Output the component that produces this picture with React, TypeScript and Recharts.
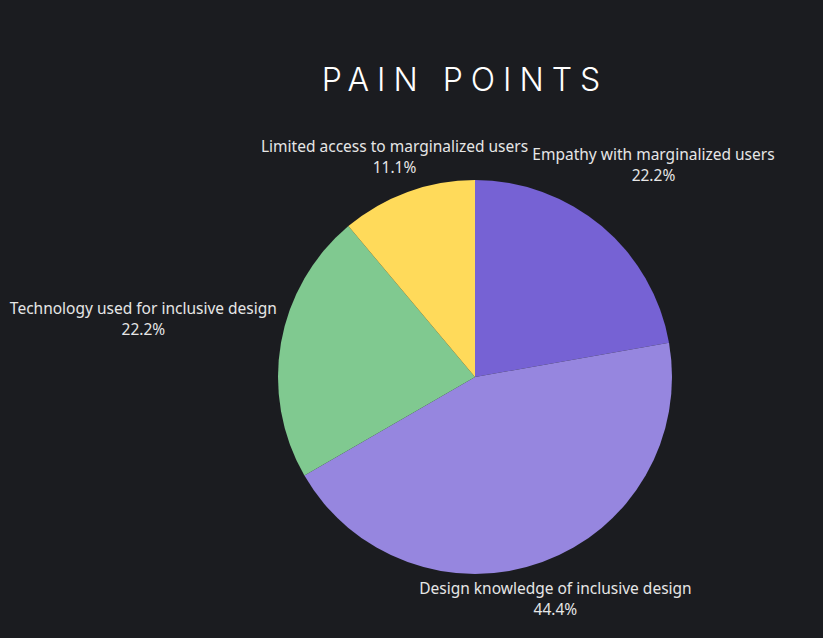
import * as React from "react";
import { PieChart, Pie, Cell } from "recharts";

const categories = [
  "Empathy with marginalized users",
  "Design knowledge of inclusive design",
  "Technology used for inclusive design",
  "Limited access to marginalized users",
];
const counts = [2, 4, 2, 1];
const colors = ["#7662D4", "#9686DF", "#80C990", "#FFDA5A"];

const data = categories.map((name, i) => ({ name, value: counts[i] }));
const total = counts.reduce((a, b) => a + b, 0);

const BG = "#1b1c20";
const LABEL_FONT = "15.5px 'Noto Sans'";
const LINE_H = 21;

let ctx: CanvasRenderingContext2D | null = null;
function textWidth(s: string): number {
  if (!ctx) ctx = document.createElement("canvas").getContext("2d");
  if (!ctx) return s.length * 8;
  ctx.font = LABEL_FONT;
  return ctx.measureText(s).width;
}

// push the label block outward along the slice middle until its nearest edge clears the pie
function renderLabel(props: any) {
  const { cx, cy, midAngle, outerRadius, name, value } = props;
  const pct = `${((value / total) * 100).toFixed(1)}%`;
  const w = Math.max(textWidth(name), textWidth(pct));
  const h = 38;
  const rad = (-midAngle * Math.PI) / 180;
  const ux = Math.cos(rad);
  const uy = Math.sin(rad);
  const target = outerRadius + 5;
  let lo = 0;
  let hi = 1000;
  for (let k = 0; k < 40; k++) {
    const d = (lo + hi) / 2;
    const bx = d * ux;
    const by = d * uy;
    const nx = Math.min(Math.max(0, bx - w / 2), bx + w / 2);
    const ny = Math.min(Math.max(0, by - h / 2), by + h / 2);
    if (Math.hypot(nx, ny) < target) lo = d;
    else hi = d;
  }
  const x = cx + hi * ux;
  const y = cy + hi * uy;
  return (
    <text
      x={x}
      y={y}
      textAnchor="middle"
      fill="#e6e6e6"
      style={{ font: LABEL_FONT }}
    >
      <tspan x={x} y={y - LINE_H / 2} dominantBaseline="central">
        {name}
      </tspan>
      <tspan x={x} y={y + LINE_H / 2} dominantBaseline="central">
        {pct}
      </tspan>
    </text>
  );
}

export default function App() {
  return (
    <div
      style={{
        position: "fixed",
        top: 0,
        left: 0,
        width: 823,
        height: 638,
        background: BG,
        overflow: "hidden",
      }}
    >
      <div
        style={{
          position: "absolute",
          top: 60,
          left: 0,
          width: 930,
          textAlign: "center",
          color: "#ffffff",
          fontFamily: "Inter, 'Noto Sans', sans-serif",
          fontWeight: 300,
          fontSize: 32,
          letterSpacing: 8,
          lineHeight: "40px",
        }}
      >
        PAIN POINTS
      </div>
      <PieChart
        width={823}
        height={638}
        margin={{ top: 0, right: 0, bottom: 0, left: 0 }}
        style={{ position: "absolute", top: 0, left: 0 }}
      >
        <Pie
          data={data}
          dataKey="value"
          nameKey="name"
          cx={475}
          cy={377}
          outerRadius={197}
          startAngle={90}
          endAngle={-270}
          stroke="none"
          label={renderLabel}
          labelLine={false}
          isAnimationActive={false}
        >
          {data.map((d, i) => (
            <Cell key={d.name} fill={colors[i]} />
          ))}
        </Pie>
      </PieChart>
    </div>
  );
}
